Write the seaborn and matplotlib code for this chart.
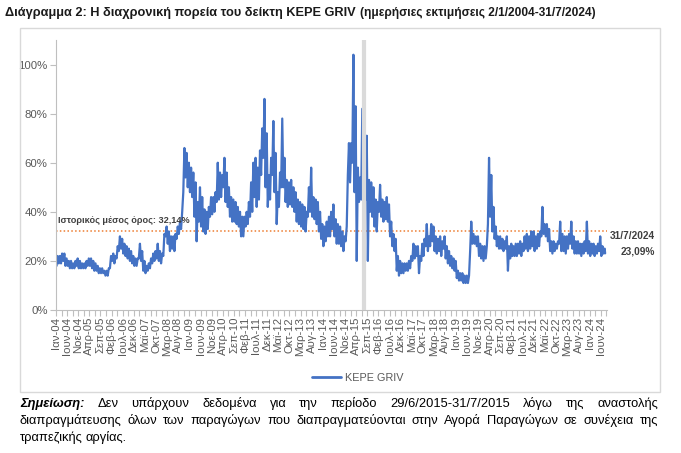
import numpy as np
import pandas as pd
import matplotlib
matplotlib.use("Agg")
import matplotlib.pyplot as plt
import matplotlib.patches as mpatches
import seaborn as sns

# --- Data: KEPE GRIV, monthly low / high (%), Jan 2004 - Jul 2024 ---
month_names = ["Ιαν", "Φεβ", "Μαρ", "Απρ", "Μαϊ", "Ιουν", "Ιουλ", "Αυγ", "Σεπ", "Οκτ", "Νοε", "Δεκ"]

griv_low = [
    18, 19, 19, 20, 18, 18, 17, 17, 17, 18, 17, 17,   # 2004
    17, 17, 18, 18, 17, 16, 16, 15, 15, 15, 14, 14,   # 2005
    17, 20, 19, 21, 24, 25, 23, 22, 21, 20, 19, 18,   # 2006
    18, 21, 20, 16, 15, 16, 17, 19, 20, 21, 20, 19,   # 2007
    22, 30, 27, 24, 25, 24, 29, 31, 33, 48, 54, 50,   # 2008
    48, 46, 38, 28, 36, 34, 32, 31, 33, 38, 39, 40,   # 2009
    44, 45, 46, 50, 44, 42, 38, 36, 36, 35, 34, 30,   # 2010
    30, 34, 35, 38, 40, 46, 42, 45, 55, 62, 50, 42,   # 2011
    45, 55, 48, 35, 42, 50, 50, 44, 42, 43, 42, 40,   # 2012
    36, 35, 34, 33, 32, 38, 40, 38, 37, 35, 32, 29,   # 2013
    26, 28, 30, 30, 33, 30, 27, 27, 26, 24, 28, 55,   # 2014
    52, 60, 48, 20, 44, 45, None, 45, 20, 40, 38, 34, # 2015
    32, 40, 38, 36, 37, 36, 30, 26, 24, 16, 14, 15,   # 2016
    15, 16, 16, 17, 20, 21, 22, 15, 20, 22, 26, 24,   # 2017
    26, 28, 24, 23, 24, 22, 25, 21, 19, 18, 17, 16,   # 2018
    13, 12, 12, 11, 11, 11, 24, 27, 27, 26, 22, 21,   # 2019
    20, 21, 35, 38, 32, 29, 26, 25, 25, 24, 25, 16,   # 2020
    21, 22, 22, 22, 23, 22, 24, 25, 24, 25, 26, 24,   # 2021
    25, 26, 30, 31, 30, 28, 24, 23, 24, 25, 27, 24,   # 2022
    24, 23, 25, 27, 25, 23, 23, 23, 22, 23, 24, 23,   # 2023
    22, 23, 22, 23, 24, 22, 23,                       # 2024
]
griv_high = [
    22, 22, 23, 23, 21, 20, 20, 19, 20, 21, 20, 19,
    19, 20, 21, 21, 20, 19, 18, 17, 17, 16, 16, 17,
    22, 23, 22, 26, 30, 29, 27, 26, 25, 24, 22, 21,
    21, 27, 24, 20, 18, 19, 21, 23, 24, 27, 24, 23,
    31, 34, 32, 30, 30, 31, 34, 36, 40, 66, 64, 60,
    58, 56, 52, 44, 50, 46, 41, 40, 42, 46, 46, 48,
    60, 56, 55, 62, 56, 50, 46, 45, 44, 42, 40, 38,
    38, 40, 44, 52, 60, 62, 58, 65, 74, 86, 72, 55,
    62, 77, 64, 48, 56, 78, 62, 53, 52, 53, 50, 48,
    45, 44, 43, 42, 40, 50, 58, 46, 45, 44, 40, 35,
    34, 36, 38, 40, 43, 37, 35, 34, 32, 30, 34, 68,
    68, 104, 83, 58, 54, 82, None, 71, 53, 52, 50, 45,
    44, 51, 45, 44, 46, 43, 36, 31, 29, 22, 20, 19,
    19, 19, 20, 22, 27, 26, 26, 22, 27, 29, 35, 30,
    35, 34, 30, 29, 30, 28, 30, 26, 24, 22, 21, 20,
    16, 15, 15, 14, 14, 14, 36, 31, 30, 30, 27, 26,
    26, 26, 62, 55, 42, 34, 30, 30, 29, 28, 30, 26,
    27, 26, 27, 27, 28, 27, 30, 31, 30, 32, 32, 30,
    31, 32, 42, 35, 35, 33, 28, 28, 27, 28, 36, 31,
    30, 30, 31, 36, 30, 28, 28, 27, 27, 28, 36, 28,
    27, 27, 26, 27, 30, 26, 25,
]
mean_level = 32.14
last_value = 23.09
gap_month = 138  # Jul 2015, no trading

# --- Build series (two readings per month) ---
rows = []
for m, (lo, hi) in enumerate(zip(griv_low, griv_high)):
    if lo is None:
        continue
    rows.append((m + 0.25, lo / 100))
    rows.append((m + 0.75, hi / 100))
rows.append((len(griv_low) - 0.03, last_value / 100))
df = pd.DataFrame(rows, columns=["month", "griv"])

tick_pos = np.arange(0, len(griv_low), 5)
tick_labels = [f"{month_names[m % 12]}-{(4 + m // 12):02d}" for m in tick_pos]

# --- Style ---
sns.set_style("white")
plt.rcParams["font.family"] = ["Liberation Sans", "DejaVu Sans"]
BLUE = "#4472C4"
GREY = "#595959"

W, H = 681, 453
fig = plt.figure(figsize=(W / 100, H / 100), dpi=100)

def fx(px):
    return px / W

def fy(py):
    return 1 - py / H

ax = fig.add_axes([fx(56), fy(310), fx(607 - 56), (310 - 40) / H])

sns.lineplot(data=df, x="month", y="griv", ax=ax, color=BLUE, linewidth=1.6,
             estimator=None, legend=False)
ax.axvline(gap_month + 0.4, color="#dadada", linewidth=3, zorder=5)
ax.axhline(mean_level / 100, color="#ED7D31", linewidth=1.1, linestyle=(0, (1, 1.5)), zorder=1)

ax.set_xlim(0, len(griv_low) + 0.8)
ax.set_ylim(0, 1.10)
ax.set_yticks(np.arange(0, 1.01, 0.2))
ax.set_yticklabels([f"{int(round(v * 100))}%" for v in np.arange(0, 1.01, 0.2)])
ax.set_xticks(tick_pos)
ax.set_xticklabels(tick_labels, rotation=90)
ax.set_xticks(tick_pos + 2.5, minor=True)
ax.set_xlabel("")
ax.set_ylabel("")
for s in ["top", "right"]:
    ax.spines[s].set_visible(False)
for s in ["left", "bottom"]:
    ax.spines[s].set_color("#bfbfbf")
ax.tick_params(axis="both", which="both", colors="#bfbfbf", length=4, width=0.8,
               labelcolor=GREY, direction="out")
ax.tick_params(axis="x", which="both", bottom=True, labelsize=8.2, pad=1)
ax.tick_params(axis="y", left=True, labelsize=8.2, pad=2)

ax.text(1.0, mean_level / 100 + 0.025, "Ιστορικός μέσος όρος: 32,14%", fontsize=6.6,
        fontweight="bold", color="#404040", ha="left", va="bottom")
fig.text(fx(655), fy(236), "31/7/2024", fontsize=7.3, fontweight="bold", color="#404040",
         ha="right", va="center")
fig.text(fx(655), fy(251), "23,09%", fontsize=7.3, fontweight="bold", color="#404040",
         ha="right", va="center")

# legend
leg_line = plt.Line2D([], [], color=BLUE, linewidth=2)
fig.legend([leg_line], ["KEPE GRIV"], loc="center", bbox_to_anchor=(fx(358), fy(378)),
           frameon=False, fontsize=7.8, handlelength=2.6, handletextpad=0.4, labelcolor=GREY)

# chart frame
fig.patches.append(mpatches.Rectangle((fx(20), fy(392)), fx(640), (392 - 28) / H,
                                      transform=fig.transFigure, fill=False,
                                      edgecolor="#d9d9d9", linewidth=1))

# title (two parts)
renderer = fig.canvas.get_renderer()
t1 = fig.text(fx(5), fy(16), "Διάγραμμα 2: Η διαχρονική πορεία του δείκτη KEPE GRIV",
              fontsize=9.2, fontweight="bold", color="#1a1a1a", va="baseline")
w1 = t1.get_window_extent(renderer).width
fig.text(fx(5 + w1 + 4), fy(16), "(ημερήσιες εκτιμήσεις 2/1/2004-31/7/2024)",
         fontsize=8.6, fontweight="bold", color="#1a1a1a", va="baseline")

# footnote, justified
def place_line(words, y, x0, x1, justify=True):
    texts = []
    for w, kw in words:
        texts.append(fig.text(0, fy(y), w, fontsize=9.3, color="black", va="baseline", **kw))
    widths = [t.get_window_extent(renderer).width for t in texts]
    space = texts[0].get_window_extent(renderer).height * 0.25
    if justify and len(texts) > 1:
        space = (x1 - x0 - sum(widths)) / (len(texts) - 1)
    x = x0
    for t, w in zip(texts, widths):
        t.set_x(fx(x))
        x += w + space

note1 = [("Σημείωση:", {"fontweight": "bold", "fontstyle": "italic"})] + \
    [(w, {}) for w in "Δεν υπάρχουν δεδομένα για την περίοδο 29/6/2015-31/7/2015 λόγω της αναστολής".split()]
note2 = [(w, {}) for w in "διαπραγμάτευσης όλων των παραγώγων που διαπραγματεύονται στην Αγορά Παραγώγων σε συνέχεια της".split()]
note3 = [(w, {}) for w in "τραπεζικής αργίας.".split()]
place_line(note1, 407, 20, 658)
place_line(note2, 424, 20, 658)
place_line(note3, 441, 20, 658, justify=False)

fig.savefig("out.png", dpi=100)
